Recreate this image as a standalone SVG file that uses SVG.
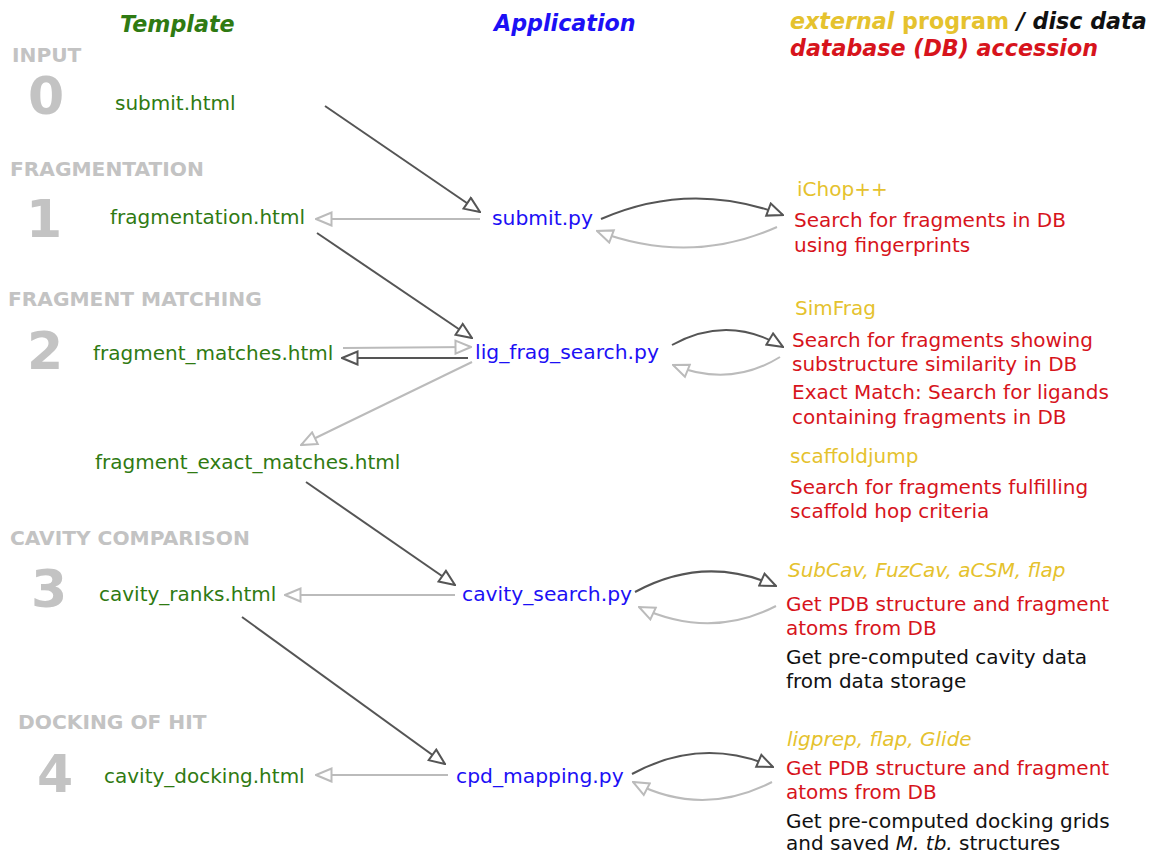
<svg xmlns="http://www.w3.org/2000/svg" width="1151" height="855" viewBox="0 0 1151 855">
  <defs>
    <style>
      text { font-family: "DejaVu Sans", Verdana, sans-serif; font-size: 20px; }
      .stage { fill: #c3c3c3; font-weight: bold; font-size: 20.2px; }
      .num { fill: #c3c3c3; font-weight: bold; font-size: 52px; }
      .tpl { fill: #2f7a12; }
      .app { fill: #1c10f5; font-size: 20.3px; }
      .ext { fill: #e5c22e; }
      .db { fill: #d7141c; }
      .disc { fill: #111111; }
      text.hdr { font-weight: bold; font-style: italic; font-size: 22.2px; }
      .dark { fill: none; stroke: #555555; stroke-width: 2; marker-end: url(#arrDark); }
      .light { fill: none; stroke: #bbbbbb; stroke-width: 2; marker-end: url(#arrLight); }
    </style>
    <marker id="arrDark" viewBox="0 0 18 16" refX="17" refY="8" markerWidth="18" markerHeight="16" markerUnits="userSpaceOnUse" orient="auto">
      <path d="M1.5,1.5 L17,8 L1.5,14.5 Z" fill="#ffffff" stroke="#555555" stroke-width="2" stroke-linejoin="miter"/>
    </marker>
    <marker id="arrLight" viewBox="0 0 18 16" refX="17" refY="8" markerWidth="18" markerHeight="16" markerUnits="userSpaceOnUse" orient="auto">
      <path d="M1.5,1.5 L17,8 L1.5,14.5 Z" fill="#ffffff" stroke="#bbbbbb" stroke-width="2" stroke-linejoin="miter"/>
    </marker>
  </defs>

  <rect width="1151" height="855" fill="#ffffff"/>

  <!-- column headers -->
  <g id="headers">
    <text class="hdr tpl" x="120" y="32">Template</text>
    <text class="hdr app" x="494" y="31">Application</text>
    <text class="hdr" x="790" y="29"><tspan class="ext">external</tspan><tspan class="ext" font-style="normal"> program</tspan><tspan class="disc"> / disc data</tspan></text>
    <text class="hdr db" x="790" y="56">database (DB) accession</text>
  </g>

  <!-- stage labels -->
  <g id="stages">
    <text class="stage" x="12" y="62">INPUT</text>
    <text class="num" x="28" y="114">0</text>
    <text class="stage" x="10" y="176">FRAGMENTATION</text>
    <text class="num" x="26" y="237">1</text>
    <text class="stage" x="8" y="306">FRAGMENT MATCHING</text>
    <text class="num" x="27" y="369">2</text>
    <text class="stage" x="10" y="545">CAVITY COMPARISON</text>
    <text class="num" x="31" y="607">3</text>
    <text class="stage" x="18" y="729">DOCKING OF HIT</text>
    <text class="num" x="37" y="792">4</text>
  </g>

  <!-- templates -->
  <g id="submit_html"><text class="tpl" x="115" y="110">submit.html</text></g>
  <g id="fragmentation_html"><text class="tpl" x="110" y="224">fragmentation.html</text></g>
  <g id="fragment_matches_html"><text class="tpl" x="93" y="360">fragment_matches.html</text></g>
  <g id="fragment_exact_matches_html"><text class="tpl" x="95" y="469">fragment_exact_matches.html</text></g>
  <g id="cavity_ranks_html"><text class="tpl" x="99" y="601">cavity_ranks.html</text></g>
  <g id="cavity_docking_html"><text class="tpl" x="104" y="783">cavity_docking.html</text></g>

  <!-- applications -->
  <g id="submit_py"><text class="app" x="492" y="225">submit.py</text></g>
  <g id="lig_frag_search_py"><text class="app" x="475" y="359">lig_frag_search.py</text></g>
  <g id="cavity_search_py"><text class="app" x="462" y="601">cavity_search.py</text></g>
  <g id="cpd_mapping_py"><text class="app" x="456" y="783">cpd_mapping.py</text></g>

  <!-- external programs and data sources -->
  <g id="ichop">
    <text class="ext" x="797" y="196">iChop++</text>
    <text class="db" x="794" y="227">Search for fragments in DB</text>
    <text class="db" x="794" y="252">using fingerprints</text>
  </g>
  <g id="simfrag">
    <text class="ext" x="795" y="315">SimFrag</text>
    <text class="db" x="792" y="347">Search for fragments showing</text>
    <text class="db" x="792" y="371">substructure similarity in DB</text>
    <text class="db" x="792" y="399">Exact Match: Search for ligands</text>
    <text class="db" x="792" y="424">containing fragments in DB</text>
  </g>
  <g id="scaffoldjump">
    <text class="ext" x="790" y="463">scaffoldjump</text>
    <text class="db" x="790" y="494">Search for fragments fulfilling</text>
    <text class="db" x="790" y="518">scaffold hop criteria</text>
  </g>
  <g id="cavity_tools">
    <text class="ext" x="788" y="577" font-style="italic">SubCav, FuzCav, aCSM, flap</text>
    <text class="db" x="786" y="611">Get PDB structure and fragment</text>
    <text class="db" x="786" y="635">atoms from DB</text>
    <text class="disc" x="786" y="664">Get pre-computed cavity data</text>
    <text class="disc" x="786" y="688">from data storage</text>
  </g>
  <g id="docking_tools">
    <text class="ext" x="787" y="746" font-style="italic">ligprep, flap, Glide</text>
    <text class="db" x="786" y="775">Get PDB structure and fragment</text>
    <text class="db" x="786" y="799">atoms from DB</text>
    <text class="disc" x="786" y="828">Get pre-computed docking grids</text>
    <text class="disc" x="786" y="850">and saved <tspan font-style="italic">M. tb.</tspan> structures</text>
  </g>

  <!-- connectors -->
  <g id="connectors">
    <!-- stage 0 / 1 -->
    <path class="dark" d="M325,106 L480,212"/>
    <path class="light" d="M480,219 L316,219"/>
    <path class="dark" d="M601,219 Q690,180 783,215"/>
    <path class="light" d="M777,227 Q690,266 597,231"/>
    <!-- stage 2 -->
    <path class="dark" d="M317,233 L472,338"/>
    <path class="light" d="M343,348 L471,347"/>
    <path class="dark" d="M468,358 L342,358"/>
    <path class="light" d="M472,362 L301,445"/>
    <path class="dark" d="M672,345 Q728,314 783,347"/>
    <path class="light" d="M780,357 Q730,388 673,365"/>
    <!-- stage 3 -->
    <path class="dark" d="M306,482 L455,585"/>
    <path class="light" d="M455,595 L285,595"/>
    <path class="dark" d="M635,592 Q705,554 776,586"/>
    <path class="light" d="M776,606 Q710,640 639,607"/>
    <!-- stage 4 -->
    <path class="dark" d="M242,617 L445,764"/>
    <path class="light" d="M448,775 L316,775"/>
    <path class="dark" d="M632,774 Q702,736 773,767"/>
    <path class="light" d="M772,782 Q702,818 633,782"/>
  </g>
</svg>
